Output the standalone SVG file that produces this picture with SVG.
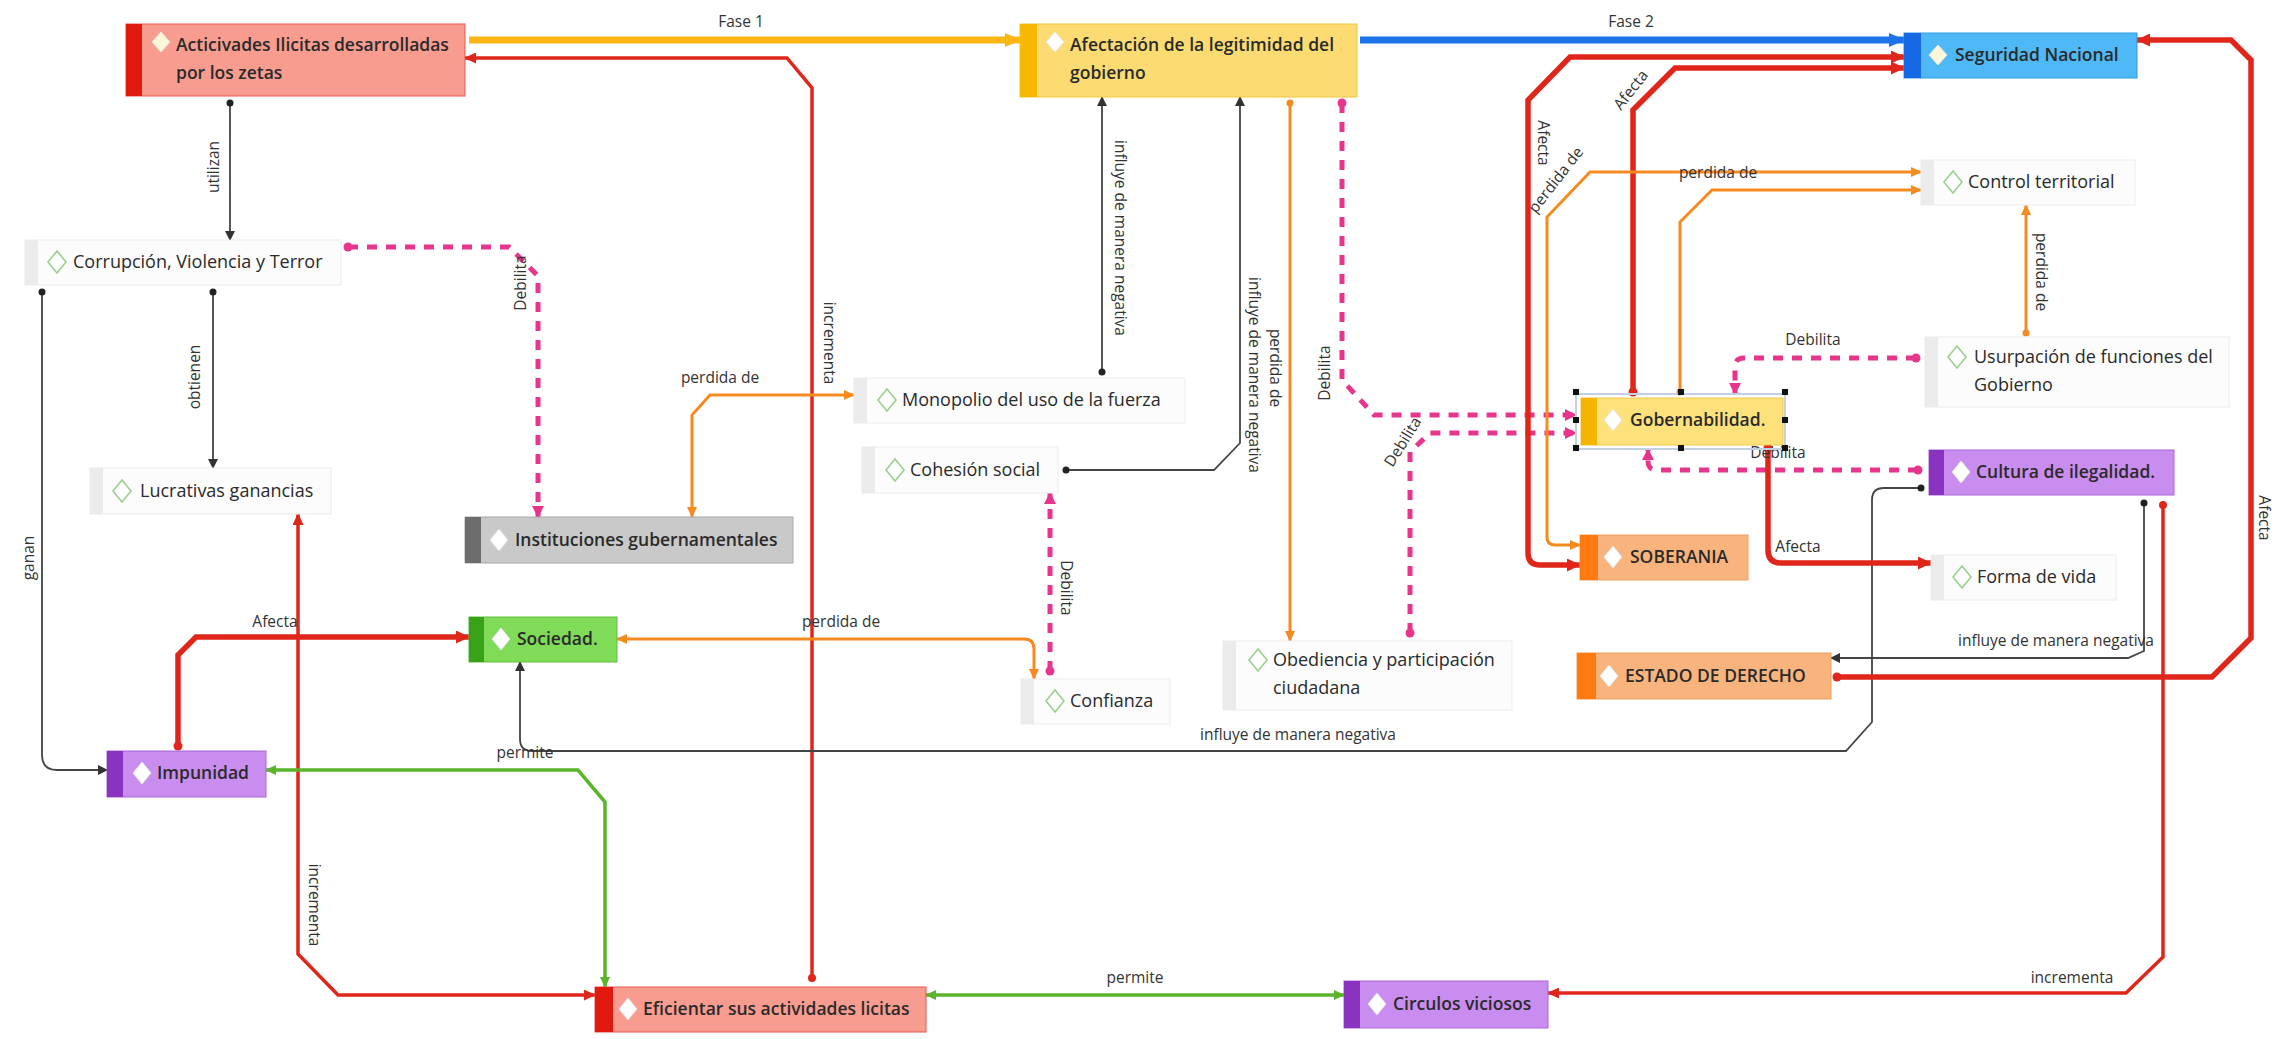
<svg xmlns="http://www.w3.org/2000/svg" width="2288" height="1039" viewBox="0 0 2288 1039">
<style>
text{font-family:"Open Sans","Noto Sans","DejaVu Sans",sans-serif;fill:#2a2a2a}
.n{font-size:18px}
.b{font-weight:600;font-size:17.5px}
.l{font-size:15.5px;fill:#333}
.pbg{fill:#fcfcfc;stroke:#ececec;stroke-width:1}
.strip{fill:#ebebeb}
.dp{fill:#fff;stroke:#9ccf8f;stroke-width:1.6}
.dc{fill:#fff;stroke:#e6e6e6;stroke-width:1}
.k{stroke:#444;stroke-width:1.8;fill:none}
.r{stroke:#e0261b;fill:none}
.o{stroke:#f58b20;stroke-width:3;fill:none}
.p{stroke:#e8358c;stroke-width:5;stroke-dasharray:10 9;fill:none}
.g{stroke:#5ab52a;stroke-width:3.5;fill:none}
</style>
<defs>
<marker id="aK" markerUnits="userSpaceOnUse" markerWidth="10" markerHeight="10" refX="9" refY="5" orient="auto-start-reverse"><path d="M0,0 L10,5 L0,10 z" fill="#333"/></marker>
<marker id="aR" markerUnits="userSpaceOnUse" markerWidth="14" markerHeight="13" refX="13" refY="6.5" orient="auto-start-reverse"><path d="M0,0 L14,6.5 L0,13 z" fill="#e0261b"/></marker>
<marker id="aRs" markerUnits="userSpaceOnUse" markerWidth="12" markerHeight="11" refX="11" refY="5.5" orient="auto-start-reverse"><path d="M0,0 L12,5.5 L0,11 z" fill="#e0261b"/></marker>
<marker id="aO" markerUnits="userSpaceOnUse" markerWidth="11" markerHeight="10" refX="10" refY="5" orient="auto-start-reverse"><path d="M0,0 L11,5 L0,10 z" fill="#f58b20"/></marker>
<marker id="aP" markerUnits="userSpaceOnUse" markerWidth="12" markerHeight="12" refX="11" refY="6" orient="auto-start-reverse"><path d="M0,0 L12,6 L0,12 z" fill="#e8358c"/></marker>
<marker id="aG" markerUnits="userSpaceOnUse" markerWidth="11" markerHeight="10" refX="10" refY="5" orient="auto-start-reverse"><path d="M0,0 L11,5 L0,10 z" fill="#5ab52a"/></marker>
<marker id="aY" markerUnits="userSpaceOnUse" markerWidth="16" markerHeight="14" refX="15" refY="7" orient="auto"><path d="M0,0 L16,7 L0,14 z" fill="#fbb614"/></marker>
<marker id="aB" markerUnits="userSpaceOnUse" markerWidth="16" markerHeight="14" refX="15" refY="7" orient="auto"><path d="M0,0 L16,7 L0,14 z" fill="#1a73e8"/></marker>
</defs>
<rect width="2288" height="1039" fill="#fff"/>

<g id="connectors">
<path d="M469,40 H1020" stroke="#fbb614" stroke-width="7" fill="none" marker-end="url(#aY)"/>
<path d="M1360,40 H1904" stroke="#1a73e8" stroke-width="7" fill="none" marker-end="url(#aB)"/>
<path class="r" stroke-width="3.5" d="M812,978 V88 L787,58 H465" marker-end="url(#aRs)"/>
<path class="k" d="M230,103 V240" marker-end="url(#aK)"/>
<path class="k" d="M213,292 V468" marker-end="url(#aK)"/>
<path class="k" d="M42,292 V755 Q42,770 57,770 H107" marker-end="url(#aK)"/>
<path class="p" d="M348,247 H509 L538,276 V517" marker-end="url(#aP)"/>
<path class="o" d="M692,517 V415 L710,395 H854" marker-start="url(#aO)" marker-end="url(#aO)"/>
<path class="k" d="M1102,372 V97" marker-end="url(#aK)"/>
<path class="k" d="M1066,470 H1214 L1240,443 V97" marker-end="url(#aK)"/>
<path class="o" d="M1290,103 V641" marker-end="url(#aO)"/>
<path class="p" d="M1342,103 V380 L1374,415 H1576" marker-end="url(#aP)"/>
<path class="p" d="M1410,633 V452 L1430,433 H1576" marker-end="url(#aP)"/>
<path class="p" d="M1050,671 V493" marker-end="url(#aP)"/>
<path class="o" d="M617,639 H1024 Q1034,639 1034,649 V679" marker-start="url(#aO)" marker-end="url(#aO)"/>
<path class="r" stroke-width="5.5" d="M178,746 V655 L196,637 H469" marker-end="url(#aR)"/>
<path class="r" stroke-width="3.5" d="M298,514 V954 L338,995 H595" marker-start="url(#aRs)" marker-end="url(#aRs)"/>
<path class="g" d="M266,770 H578 L605,802 V987" marker-start="url(#aG)" marker-end="url(#aG)"/>
<path class="k" d="M1921,488 H1884 Q1872,488 1872,500 V722 L1846,751 H532 Q520,751 520,739 V662" marker-end="url(#aK)"/>
<path class="k" d="M2144,503 V651 L2128,658 H1831" marker-end="url(#aK)"/>
<path class="r" stroke-width="3.5" d="M2163,505 V957 L2126,993 H1548" marker-end="url(#aRs)"/>
<path class="g" d="M926,995 H1344" marker-start="url(#aG)" marker-end="url(#aG)"/>
<path class="r" stroke-width="5.5" d="M1837,677 H2212 L2251,638 V60 L2231,40 H2137" marker-end="url(#aR)"/>
<path class="r" stroke-width="5.5" d="M1580,565 H1540 Q1528,565 1528,553 V100 L1570,57 H1904" marker-start="url(#aR)" marker-end="url(#aR)"/>
<path class="r" stroke-width="5.5" d="M1633,392 V110 L1675,68 H1904" marker-end="url(#aR)"/>
<path class="o" d="M1580,545 H1555 Q1547,545 1547,537 V217 L1590,172 H1921" marker-start="url(#aO)" marker-end="url(#aO)"/>
<path class="o" d="M1680,392 V222 L1712,190 H1921" marker-end="url(#aO)"/>
<path class="o" d="M2026,333 V205" marker-end="url(#aO)"/>
<path class="p" d="M1916,358 H1744 Q1735,358 1735,367 V394" marker-end="url(#aP)"/>
<path class="p" d="M1918,470 H1657 Q1648,470 1648,461 V449" marker-end="url(#aP)"/>
<path class="r" stroke-width="5.5" d="M1768,448 V550 Q1768,563 1781,563 H1931" marker-end="url(#aR)"/>
<g id="dots">
<circle cx="812" cy="978" r="4" fill="#e0261b"/>
<circle cx="230" cy="103" r="3.5" fill="#222"/>
<circle cx="213" cy="292" r="3.5" fill="#222"/>
<circle cx="42" cy="292" r="3.5" fill="#222"/>
<circle cx="348" cy="247" r="4.5" fill="#e8358c"/>
<circle cx="1102" cy="372" r="3.5" fill="#222"/>
<circle cx="1066" cy="470" r="3.5" fill="#222"/>
<circle cx="1290" cy="103" r="3.5" fill="#f58b20"/>
<circle cx="1342" cy="103" r="4.5" fill="#e8358c"/>
<circle cx="1410" cy="633" r="4.5" fill="#e8358c"/>
<circle cx="1050" cy="671" r="4.5" fill="#e8358c"/>
<circle cx="178" cy="746" r="4.5" fill="#e0261b"/>
<circle cx="1921" cy="488" r="3.5" fill="#222"/>
<circle cx="2144" cy="503" r="3.5" fill="#222"/>
<circle cx="2163" cy="505" r="4" fill="#e0261b"/>
<circle cx="1837" cy="677" r="4.5" fill="#e0261b"/>
<circle cx="1633" cy="392" r="4.5" fill="#e0261b"/>
<circle cx="1680" cy="392" r="3.5" fill="#f58b20"/>
<circle cx="2026" cy="333" r="3.5" fill="#f58b20"/>
<circle cx="1916" cy="358" r="4.5" fill="#e8358c"/>
<circle cx="1918" cy="470" r="4.5" fill="#e8358c"/>
<circle cx="1768" cy="448" r="4.5" fill="#e0261b"/>
</g>
<g id="labels" class="l" text-anchor="middle">
<text class="l" x="741" y="27">Fase 1</text>
<text class="l" x="1631" y="27">Fase 2</text>
<text class="l" transform="translate(214,167) rotate(-90)" dy="5">utilizan</text>
<text class="l" transform="translate(195,377) rotate(-90)" dy="5">obtienen</text>
<text class="l" transform="translate(29,558) rotate(-90)" dy="5">ganan</text>
<text class="l" transform="translate(521,283) rotate(-90)" dy="5">Debilita</text>
<text class="l" transform="translate(829,343) rotate(90)" dy="5">incrementa</text>
<text class="l" x="720" y="383">perdida de</text>
<text class="l" transform="translate(1120,238) rotate(90)" dy="5">influye de manera negativa</text>
<text class="l" transform="translate(1254,375) rotate(90)" dy="5">influye de manera negativa</text>
<text class="l" transform="translate(1275,368) rotate(90)" dy="5">perdida de</text>
<text class="l" transform="translate(1325,373) rotate(-90)" dy="5">Debilita</text>
<text class="l" transform="translate(1403,442) rotate(-58)" dy="5">Debilita</text>
<text class="l" transform="translate(1066,588) rotate(90)" dy="5">Debilita</text>
<text class="l" x="841" y="627">perdida de</text>
<text class="l" x="275" y="627">Afecta</text>
<text class="l" transform="translate(314,905) rotate(90)" dy="5">incrementa</text>
<text class="l" x="525" y="758">permite</text>
<text class="l" x="1298" y="740">influye de manera negativa</text>
<text class="l" x="2056" y="646">influye de manera negativa</text>
<text class="l" x="2072" y="983">incrementa</text>
<text class="l" x="1135" y="983">permite</text>
<text class="l" transform="translate(2264,518) rotate(90)" dy="5">Afecta</text>
<text class="l" transform="translate(1543,143) rotate(90)" dy="5">Afecta</text>
<text class="l" transform="translate(1631,90) rotate(-52)" dy="5">Afecta</text>
<text class="l" transform="translate(1556,180) rotate(-52)" dy="5">perdida de</text>
<text class="l" x="1718" y="178">perdida de</text>
<text class="l" transform="translate(2041,272) rotate(90)" dy="5">perdida de</text>
<text class="l" x="1813" y="345">Debilita</text>
<text class="l" x="1778" y="458">Debilita</text>
<text class="l" x="1798" y="552">Afecta</text>
</g>
</g>

<g id="n-actividades">
<rect x="126" y="24" width="339" height="72" fill="#f99c90" stroke="#e8574a"/>
<rect x="126" y="24" width="16" height="72" fill="#e01a0e"/>
<polygon class="dc" points="161,32 170,42 161,52 152,42" style="fill:#fdf6d8"/>
<text class="n b" x="176" y="51">Acticivades Ilicitas desarrolladas</text>
<text class="n b" x="176" y="79">por los zetas</text>
</g>
<g id="n-afectacion">
<rect x="1020" y="24" width="337" height="73" fill="#fcdc72" stroke="#f2c53d"/>
<rect x="1020" y="24" width="17" height="73" fill="#f6b800"/>
<polygon class="dc" points="1055,32 1064,42 1055,52 1046,42"/>
<text class="n b" x="1070" y="51">Afectación de la legitimidad del</text>
<text class="n b" x="1070" y="79">gobierno</text>
</g>
<g id="n-seguridad">
<rect x="1904" y="33" width="233" height="45" fill="#4fb8f6" stroke="#2f9ae0"/>
<rect x="1904" y="33" width="17" height="45" fill="#1668e3"/>
<polygon class="dc" points="1938,45 1947,55 1938,65 1929,55" style="fill:#fdf6d8"/>
<text class="n b" x="1955" y="61">Seguridad Nacional</text>
</g>
<g id="n-corrupcion">
<rect class="pbg" x="25" y="240" width="316" height="45"/>
<rect class="strip" x="25" y="240" width="13" height="45"/>
<polygon class="dp" points="57,251 66,262 57,273 48,262"/>
<text class="n" x="73" y="268">Corrupción, Violencia y Terror</text>
</g>
<g id="n-lucrativas">
<rect class="pbg" x="90" y="468" width="241" height="46"/>
<rect class="strip" x="90" y="468" width="13" height="46"/>
<polygon class="dp" points="122,480 131,491 122,502 113,491"/>
<text class="n" x="140" y="497">Lucrativas ganancias</text>
</g>
<g id="n-monopolio">
<rect class="pbg" x="854" y="378" width="331" height="45"/>
<rect class="strip" x="854" y="378" width="13" height="45"/>
<polygon class="dp" points="887,389 896,400 887,411 878,400"/>
<text class="n" x="902" y="406">Monopolio del uso de la fuerza</text>
</g>
<g id="n-cohesion">
<rect class="pbg" x="862" y="447" width="196" height="46"/>
<rect class="strip" x="862" y="447" width="13" height="46"/>
<polygon class="dp" points="895,459 904,470 895,481 886,470"/>
<text class="n" x="910" y="476">Cohesión social</text>
</g>
<g id="n-instituciones">
<rect x="465" y="517" width="328" height="46" fill="#c9c9c9" stroke="#a8a8a8"/>
<rect x="465" y="517" width="16" height="46" fill="#6d6d6d"/>
<polygon class="dc" points="499,529 508,540 499,551 490,540"/>
<text class="n b" x="515" y="546">Instituciones gubernamentales</text>
</g>
<g id="n-sociedad">
<rect x="469" y="617" width="148" height="45" fill="#7fdb58" stroke="#5cc23a"/>
<rect x="469" y="617" width="15" height="45" fill="#38a319"/>
<polygon class="dc" points="501,628 510,639 501,650 492,639"/>
<text class="n b" x="517" y="645">Sociedad.</text>
</g>
<g id="n-confianza">
<rect class="pbg" x="1021" y="679" width="149" height="45"/>
<rect class="strip" x="1021" y="679" width="13" height="45"/>
<polygon class="dp" points="1055,690 1064,701 1055,712 1046,701"/>
<text class="n" x="1070" y="707">Confianza</text>
</g>
<g id="n-impunidad">
<rect x="107" y="751" width="159" height="46" fill="#c98df0" stroke="#a865d6"/>
<rect x="107" y="751" width="16" height="46" fill="#8a33c0"/>
<polygon class="dc" points="142,762 151,773 142,784 133,773"/>
<text class="n b" x="157" y="779">Impunidad</text>
</g>
<g id="n-eficientar">
<rect x="595" y="987" width="331" height="45" fill="#f99c90" stroke="#e8574a"/>
<rect x="595" y="987" width="18" height="45" fill="#e01a0e"/>
<polygon class="dc" points="628,998 637,1009 628,1020 619,1009"/>
<text class="n b" x="643" y="1015">Eficientar sus actividades licitas</text>
</g>
<g id="n-circulos">
<rect x="1344" y="981" width="204" height="47" fill="#c98df0" stroke="#a865d6"/>
<rect x="1344" y="981" width="16" height="47" fill="#8a33c0"/>
<polygon class="dc" points="1377,993 1386,1004 1377,1015 1368,1004"/>
<text class="n b" x="1393" y="1010">Circulos viciosos</text>
</g>
<g id="n-obediencia">
<rect class="pbg" x="1223" y="641" width="289" height="69"/>
<rect class="strip" x="1223" y="641" width="13" height="69"/>
<polygon class="dp" points="1258,649 1267,660 1258,671 1249,660"/>
<text class="n" x="1273" y="666">Obediencia y participación</text>
<text class="n" x="1273" y="694">ciudadana</text>
</g>
<g id="n-gobernabilidad">
<rect x="1576" y="394" width="209" height="55" fill="none" stroke="#c3d0df" stroke-width="2"/>
<rect x="1581" y="398" width="202" height="47" fill="#fde27c" stroke="#f0c84a"/>
<rect x="1581" y="398" width="16" height="47" fill="#f5b400"/>
<polygon class="dc" points="1613,409 1622,420 1613,431 1604,420"/>
<text class="n b" x="1630" y="426">Gobernabilidad.</text>
<g fill="#111">
<rect x="1573" y="389" width="6" height="6"/><rect x="1678" y="389" width="6" height="6"/><rect x="1782" y="389" width="6" height="6"/>
<rect x="1573" y="417" width="6" height="6"/><rect x="1782" y="417" width="6" height="6"/>
<rect x="1573" y="445" width="6" height="6"/><rect x="1678" y="445" width="6" height="6"/><rect x="1782" y="445" width="6" height="6"/>
</g>
</g>
<g id="n-soberania">
<rect x="1580" y="535" width="168" height="45" fill="#f9b47d" stroke="#eda060"/>
<rect x="1580" y="535" width="18" height="45" fill="#ff7a10"/>
<polygon class="dc" points="1613,546 1622,557 1613,568 1604,557"/>
<text class="n b" x="1630" y="563">SOBERANIA</text>
</g>
<g id="n-estado">
<rect x="1577" y="653" width="254" height="46" fill="#f9b47d" stroke="#eda060"/>
<rect x="1577" y="653" width="19" height="46" fill="#ff7a10"/>
<polygon class="dc" points="1609,665 1618,676 1609,687 1600,676"/>
<text class="n b" x="1625" y="682">ESTADO DE DERECHO</text>
</g>
<g id="n-control">
<rect class="pbg" x="1921" y="160" width="214" height="45"/>
<rect class="strip" x="1921" y="160" width="13" height="45"/>
<polygon class="dp" points="1953,171 1962,182 1953,193 1944,182"/>
<text class="n" x="1968" y="188">Control territorial</text>
</g>
<g id="n-usurpacion">
<rect class="pbg" x="1925" y="337" width="304" height="70"/>
<rect class="strip" x="1925" y="337" width="13" height="70"/>
<polygon class="dp" points="1957,346 1966,357 1957,368 1948,357"/>
<text class="n" x="1974" y="363">Usurpación de funciones del</text>
<text class="n" x="1974" y="391">Gobierno</text>
</g>
<g id="n-cultura">
<rect x="1929" y="450" width="245" height="45" fill="#c98df0" stroke="#a865d6"/>
<rect x="1929" y="450" width="15" height="45" fill="#8a33c0"/>
<polygon class="dc" points="1961,461 1970,472 1961,483 1952,472"/>
<text class="n b" x="1976" y="478">Cultura de ilegalidad.</text>
</g>
<g id="n-forma">
<rect class="pbg" x="1931" y="555" width="185" height="45"/>
<rect class="strip" x="1931" y="555" width="13" height="45"/>
<polygon class="dp" points="1962,566 1971,577 1962,588 1953,577"/>
<text class="n" x="1977" y="583">Forma de vida</text>
</g>
</svg>
